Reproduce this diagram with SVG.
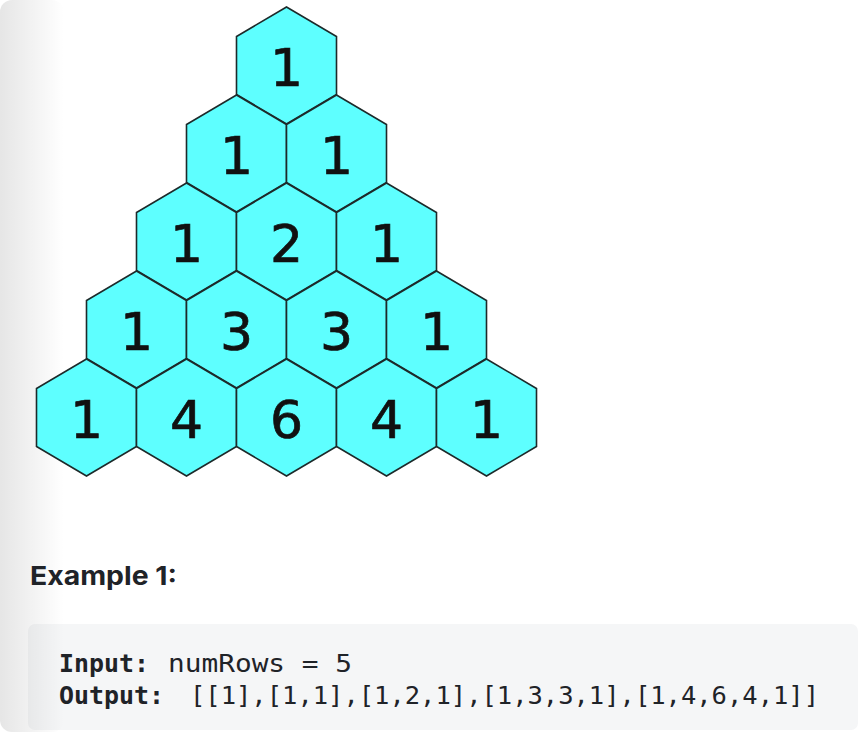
<svg xmlns="http://www.w3.org/2000/svg" width="860" height="732" viewBox="0 0 860 732">
<style>
.hex{fill:#5effff;stroke:#1d2a2a;stroke-width:1.6;stroke-linejoin:miter}
.num{font-family:"DejaVu Sans",sans-serif;font-size:52px;fill:#111;stroke:#111;stroke-width:0.7;text-anchor:middle}
.h{font-family:Inter,"Liberation Sans",sans-serif;font-weight:700;font-size:26px;fill:#1f2328}
.code{font-family:"DejaVu Sans Mono","Liberation Mono",monospace;font-size:25px;fill:#1f2328}
.b{font-weight:700}
</style>
<defs>
<polygon id="hx" points="0,-58.5 50,-29 50,29 0,58.5 -50,29 -50,-29"/>
<linearGradient id="sh" x1="0" y1="0" x2="1" y2="0">
<stop offset="0" stop-color="#000" stop-opacity="0.1"/>
<stop offset="1" stop-color="#000" stop-opacity="0"/>
</linearGradient>
</defs>
<rect width="860" height="732" fill="#fff"/>
<rect x="28" y="624" width="830" height="106" rx="7" fill="#f5f6f7"/>
<rect x="0" y="0" width="64" height="732" rx="12" fill="url(#sh)"/>
<g id="connectors"/>
<g id="n0-0"><use href="#hx" class="hex" x="286.5" y="65.5"/><text class="num" x="286.5" y="85.5">1</text></g>
<g id="n1-0"><use href="#hx" class="hex" x="236.5" y="153.5"/><text class="num" x="236.5" y="173.5">1</text></g>
<g id="n1-1"><use href="#hx" class="hex" x="336.5" y="153.5"/><text class="num" x="336.5" y="173.5">1</text></g>
<g id="n2-0"><use href="#hx" class="hex" x="186.5" y="241.5"/><text class="num" x="186.5" y="261.5">1</text></g>
<g id="n2-1"><use href="#hx" class="hex" x="286.5" y="241.5"/><text class="num" x="286.5" y="261.5">2</text></g>
<g id="n2-2"><use href="#hx" class="hex" x="386.5" y="241.5"/><text class="num" x="386.5" y="261.5">1</text></g>
<g id="n3-0"><use href="#hx" class="hex" x="136.5" y="329.5"/><text class="num" x="136.5" y="349.5">1</text></g>
<g id="n3-1"><use href="#hx" class="hex" x="236.5" y="329.5"/><text class="num" x="236.5" y="349.5">3</text></g>
<g id="n3-2"><use href="#hx" class="hex" x="336.5" y="329.5"/><text class="num" x="336.5" y="349.5">3</text></g>
<g id="n3-3"><use href="#hx" class="hex" x="436.5" y="329.5"/><text class="num" x="436.5" y="349.5">1</text></g>
<g id="n4-0"><use href="#hx" class="hex" x="86.5" y="417.5"/><text class="num" x="86.5" y="437.5">1</text></g>
<g id="n4-1"><use href="#hx" class="hex" x="186.5" y="417.5"/><text class="num" x="186.5" y="437.5">4</text></g>
<g id="n4-2"><use href="#hx" class="hex" x="286.5" y="417.5"/><text class="num" x="286.5" y="437.5">6</text></g>
<g id="n4-3"><use href="#hx" class="hex" x="386.5" y="417.5"/><text class="num" x="386.5" y="437.5">4</text></g>
<g id="n4-4"><use href="#hx" class="hex" x="486.5" y="417.5"/><text class="num" x="486.5" y="437.5">1</text></g>
<text class="h" x="30" y="585" textLength="147" lengthAdjust="spacingAndGlyphs">Example 1:</text>
<text class="code b" x="59" y="672" textLength="90" lengthAdjust="spacingAndGlyphs">Input:</text>
<text class="code" x="168" y="672" textLength="184" lengthAdjust="spacingAndGlyphs">numRows = 5</text>
<text class="code b" x="59" y="704" textLength="105" lengthAdjust="spacingAndGlyphs">Output:</text>
<text class="code" x="190" y="704" textLength="629" lengthAdjust="spacingAndGlyphs">[[1],[1,1],[1,2,1],[1,3,3,1],[1,4,6,4,1]]</text>
</svg>
